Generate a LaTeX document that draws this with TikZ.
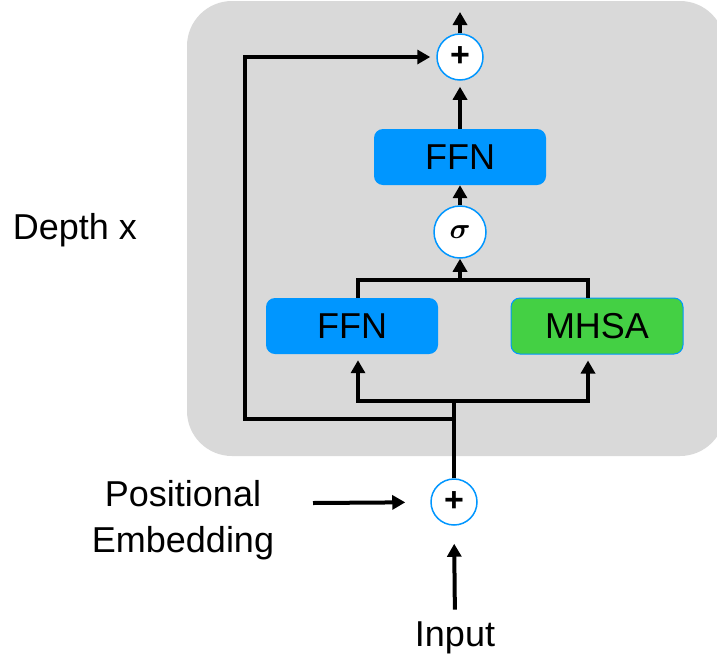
\documentclass[tikz,border=0pt]{standalone}
\usepackage{amsmath}
\usepackage{graphicx}
\usepackage{fontspec}
\setmainfont{Liberation Sans}
\usetikzlibrary{positioning,arrows.meta}
\definecolor{boxgray}{RGB}{217,217,217}
\definecolor{ffnblue}{RGB}{0,150,255}
\definecolor{mhsagreen}{RGB}{68,208,68}

\begin{document}
\begin{tikzpicture}[x=1pt,y=-1pt,
  every node/.style={inner sep=0pt},
  block/.style={rounded corners=9pt, minimum width=172pt, minimum height=56pt,
    font=\fontsize{36}{40}\selectfont},
  ffn/.style={block, fill=ffnblue},
  mhsa/.style={block, fill=mhsagreen, draw=ffnblue, line width=1pt},
  op/.style={circle, draw=ffnblue, fill=white, line width=1.5pt, minimum size=46pt},
  lbl/.style={font=\fontsize{36}{46}\selectfont, align=center},
  wire/.style={line width=4pt},
  flow/.style={wire, -{Triangle[width=14pt,length=13pt]}}]
\useasboundingbox (0,0) rectangle (717,662);
% shaded block, repeated "depth" times
\fill[boxgray, rounded corners=45pt] (187,1) rectangle (725,456);
\node[lbl] (depth) at (75,230) {Depth x};

\node[op, font=\fontsize{34}{34}\selectfont\bfseries] (addtop) at (460,57) {+};
\node[ffn] (ffntop) at (460,157) {FFN};
\node[op, minimum size=52pt] (sig) at (460,232) {\scalebox{2.9}{$\boldsymbol{\sigma}$}};
\node[ffn] (ffnl) at (352,326) {FFN};
\node[mhsa] (mhsa) at (597,326) {MHSA};
\node[op, font=\fontsize{34}{34}\selectfont\bfseries] (addbot) at (454,502) {+};
\node[lbl] (pos) at (183,520) {Positional\\Embedding};
\node[lbl] (inp) at (455,638) {Input};

\coordinate (split) at (454,401);
\coordinate (merge) at (460,280);
\coordinate (skip) at (245,419);
\coordinate (posin) at (313,503);
\coordinate (out) at (460,12);

% inside the block
\draw[wire] (addbot.north) -- (split);
\draw[flow, shorten >=6pt] (split) -| ([xshift=6pt]ffnl.south);
\draw[flow, shorten >=6pt] (split) -| ([xshift=-9pt]mhsa.south);
\draw[wire] ([xshift=6pt]ffnl.north) |- (merge) -| ([xshift=-9pt]mhsa.north);
\draw[flow] (merge) -- (sig.south);
\draw[flow] (sig.north) -- (ffntop.south);
\draw[flow, shorten >=6pt] (ffntop.north) -- (addtop.south);
\draw[flow] (addtop.north) -- (out);
\draw[flow, shorten >=6pt] (addbot.north |- skip) -- (skip) |- (addtop.west);

% input side
\draw[flow, shorten >=25pt] (posin) -- (addbot);
\draw[flow, shorten >=18pt, shorten <=12pt] (inp.north) -- (addbot.south);
\end{tikzpicture}
\end{document}
